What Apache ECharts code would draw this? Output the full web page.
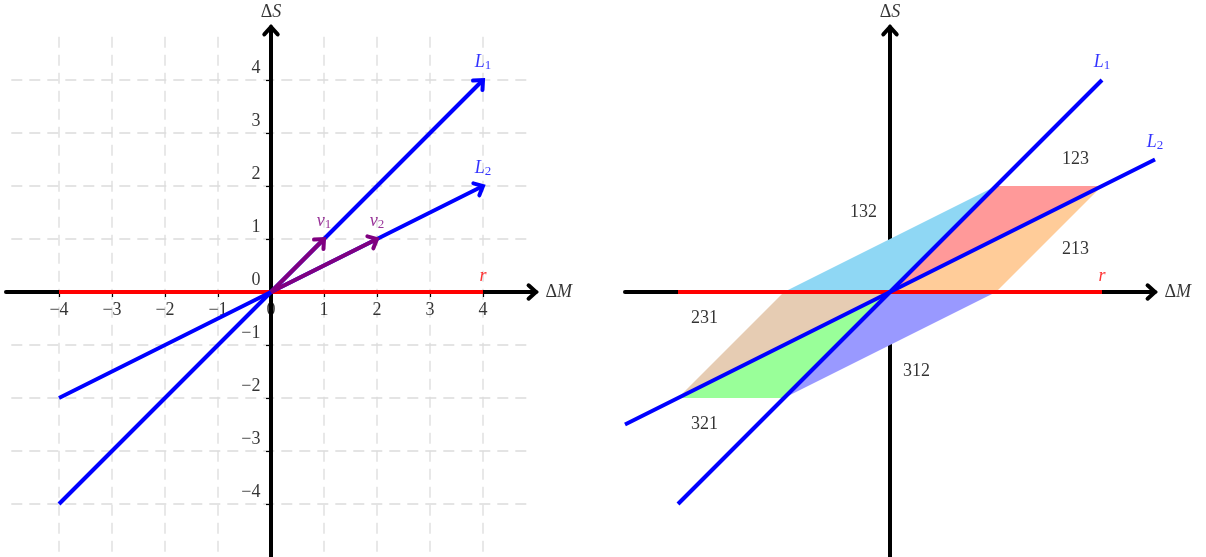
<!DOCTYPE html>
<html><head><meta charset="utf-8">
<script src="https://cdn.jsdelivr.net/npm/echarts@6/dist/echarts.min.js"></script>
<style>html,body{margin:0;padding:0;background:#fff}#c{width:1206px;height:557px}</style>
</head><body><div id="c"></div>
<script>
// ---------------- data ----------------
const tickValues = [-4, -3, -2, -1, 0, 1, 2, 3, 4];
const axisRange = [-5, 5];
const gridRange = [-4.9, 4.9];

const xAxisSeg = [[-5, 0], [5, 0]];
const yAxisSeg = [[0, -5], [0, 5]];

// left panel
const leftL1 = [[-4, -4], [4, 4]];
const leftL2 = [[-4, -2], [4, 2]];
const leftR  = [[-4, 0], [4, 0]];
const leftV1 = [[0, 0], [1, 1]];
const leftV2 = [[0, 0], [2, 1]];

// right panel
const rightL1 = [[-4, -4], [4, 4]];
const rightL2 = [[-5, -2.5], [5, 2.5]];
const rightR  = [[-4, 0], [4, 0]];

const region123 = [[0, 0], [2, 2], [4, 2]];
const region132 = [[0, 0], [-2, 0], [2, 2]];
const region213 = [[0, 0], [4, 2], [2, 0]];
const region231 = [[0, 0], [-2, 0], [-4, -2]];
const region321 = [[0, 0], [-4, -2], [-2, -2]];
const region312 = [[0, 0], [-2, -2], [2, 0]];

const regionNames = ['123', '132', '213', '231', '312', '321'];
const regionLabelPos = [[3.5, 2.5], [-0.5, 1.5], [3.5, 0.8], [-3.5, -0.5], [0.5, -1.5], [-3.5, -2.5]];

// ---------------- styling / helpers ----------------
const FONT = "'Liberation Serif','DejaVu Serif',serif";
const BLUE = '#0000ff', RED = '#ff0000', PURPLE = '#800080', BLACK = '#000000';
const fmt = function (val) {
  const v = Number(val);
  return v < 0 ? '\u2212' + Math.abs(v) : String(v);
};

function rich(color) {
  return {
    i: { fontFamily: FONT, fontSize: 18, fontStyle: 'italic', color: color, lineHeight: 20 },
    u: { fontFamily: FONT, fontSize: 18, color: color, lineHeight: 20 },
    s: { fontFamily: FONT, fontSize: 13, color: color, lineHeight: 13, verticalAlign: 'bottom' },
    n: { fontFamily: FONT, fontSize: 18, color: color, lineHeight: 20 },
    ny: { fontFamily: FONT, fontSize: 18, color: color, lineHeight: 20, padding: [0, 0, 24, 0] }
  };
}

function lineSeries(seg, color, g, z, width) {
  return {
    type: 'line', xAxisIndex: g, yAxisIndex: g, data: seg, symbol: 'none',
    silent: true, animation: false, z: z, clip: false,
    lineStyle: { color: color, width: width || 4, cap: 'butt' }
  };
}

function arrowSeries(segs, color, g, z) {
  return {
    type: 'custom', xAxisIndex: g, yAxisIndex: g, z: z, silent: true, animation: false, clip: false,
    data: segs.map(s => s[1]),
    renderItem: function (params, api) {
      const s = segs[params.dataIndex];
      const p0 = api.coord(s[0]), p1 = api.coord(s[1]);
      const a = Math.atan2(p1[1] - p0[1], p1[0] - p0[0]);
      const L = 10, h = 42 * Math.PI / 180;
      const b1 = [p1[0] - L * Math.cos(a - h), p1[1] - L * Math.sin(a - h)];
      const b2 = [p1[0] - L * Math.cos(a + h), p1[1] - L * Math.sin(a + h)];
      return {
        type: 'polyline', shape: { points: [b1, p1, b2] },
        style: { stroke: color, lineWidth: 4, fill: null, lineCap: 'round', lineJoin: 'miter' }
      };
    }
  };
}

function polygonSeries(region, color, g, z) {
  return {
    type: 'custom', xAxisIndex: g, yAxisIndex: g, z: z, silent: true, animation: false, clip: false,
    data: [region[0]],
    renderItem: function (params, api) {
      return {
        type: 'polygon', shape: { points: region.map(p => api.coord(p)) },
        style: { fill: color, stroke: null }
      };
    }
  };
}

function gridLineSeries(g) {
  return {
    type: 'custom', xAxisIndex: g, yAxisIndex: g, z: 0, silent: true, animation: false, clip: false,
    data: tickValues.map(t => [t, t]),
    renderItem: function (params, api) {
      const t = tickValues[params.dataIndex];
      const v0 = api.coord([t, gridRange[0]]), v1 = api.coord([t, gridRange[1]]);
      const h0 = api.coord([gridRange[0], t]), h1 = api.coord([gridRange[1], t]);
      const st = { stroke: '#dcdcdc', lineWidth: 1.3, lineDash: [11, 7] };
      return {
        type: 'group', children: [
          { type: 'line', shape: { x1: v0[0], y1: v0[1], x2: v1[0], y2: v1[1] }, style: st },
          { type: 'line', shape: { x1: h0[0], y1: h0[1], x2: h1[0], y2: h1[1] }, style: st }
        ]
      };
    }
  };
}

function textSeries(items, g, z) {
  return {
    type: 'scatter', xAxisIndex: g, yAxisIndex: g, z: z, silent: true, animation: false, clip: false,
    symbolSize: 1, itemStyle: { color: 'rgba(0,0,0,0)' }, labelLayout: { hideOverlap: false },
    data: items.map(it => ({
      value: it.pos,
      label: {
        show: true, formatter: it.text, position: it.position || 'inside',
        distance: it.distance == null ? 5 : it.distance,
        rich: rich(it.color)
      }
    }))
  };
}

function axisPair(g, showTicks) {
  const common = {
    gridIndex: g, type: 'value', min: axisRange[0], max: axisRange[1], interval: 1, z: 1,
    axisLine: { show: true, onZero: true, lineStyle: { color: BLACK, width: 4 } },
    axisTick: { show: showTicks, customValues: tickValues, length: 5, lineStyle: { color: BLACK, width: 1.2 } },
    axisLabel: { show: false },
    splitLine: { show: false }
  };
  return [Object.assign({}, common), Object.assign({}, common)];
}

const ax0 = axisPair(0, true);
const ax1 = axisPair(1, false);

// tick labels drawn from tickValues through the axes' scales
const tickLabels = tickValues.map(t => ({ pos: [t, 0], text: '{n|' + fmt(t) + '}', color: BLACK, position: 'bottom', distance: 8 }))
  .concat(tickValues.map(t => ({ pos: [0, t], text: '{ny|' + fmt(t) + '}', color: BLACK, position: 'left', distance: 10 })));

const labelsLeft = [
  { pos: leftL1[1], text: '{i|L}{s|1}', color: BLUE, position: 'top', distance: 7 },
  { pos: leftL2[1], text: '{i|L}{s|2}', color: BLUE, position: 'top', distance: 7 },
  { pos: leftV1[1], text: '{i|v}{s|1}', color: PURPLE, position: 'top', distance: 7 },
  { pos: leftV2[1], text: '{i|v}{s|2}', color: PURPLE, position: 'top', distance: 7 },
  { pos: leftR[1], text: '{i|r}', color: RED, position: 'top', distance: 5 },
  { pos: yAxisSeg[1], text: '{u|\u0394}{i|S}', color: BLACK, position: 'top', distance: 4 },
  { pos: xAxisSeg[1], text: '{u|\u0394}{i|M}', color: BLACK, position: 'right', distance: 9 }
];
const labelsRight = [
  { pos: rightL1[1], text: '{i|L}{s|1}', color: BLUE, position: 'top', distance: 7 },
  { pos: rightL2[1], text: '{i|L}{s|2}', color: BLUE, position: 'top', distance: 7 },
  { pos: rightR[1], text: '{i|r}', color: RED, position: 'top', distance: 5 },
  { pos: yAxisSeg[1], text: '{u|\u0394}{i|S}', color: BLACK, position: 'top', distance: 4 },
  { pos: xAxisSeg[1], text: '{u|\u0394}{i|M}', color: BLACK, position: 'right', distance: 9 }
].concat(regionNames.map((n, i) => ({ pos: regionLabelPos[i], text: '{n|' + n + '}', color: BLACK, position: 'inside' })));

const option = {
  backgroundColor: '#ffffff',
  animation: false,
  grid: [
    { left: 6, top: 27, width: 530, height: 530, containLabel: false, outerBoundsMode: 'none' },
    { left: 625, top: 27, width: 530, height: 530, containLabel: false, outerBoundsMode: 'none' }
  ],
  xAxis: [ax0[0], ax1[0]],
  yAxis: [ax0[1], ax1[1]],
  series: [
    // left panel
    gridLineSeries(0),
    textSeries(tickLabels, 0, 0),
    lineSeries(leftR, RED, 0, 2),
    lineSeries(leftL1, BLUE, 0, 3),
    lineSeries(leftL2, BLUE, 0, 3),
    arrowSeries([xAxisSeg, yAxisSeg], BLACK, 0, 2),
    arrowSeries([leftL1, leftL2], BLUE, 0, 3),
    lineSeries(leftV1, PURPLE, 0, 4),
    lineSeries(leftV2, PURPLE, 0, 4),
    arrowSeries([leftV1, leftV2], PURPLE, 0, 4),
    textSeries(labelsLeft, 0, 6),
    // right panel
    polygonSeries(region123, '#ff9999', 1, 2),
    polygonSeries(region132, '#8fd7f4', 1, 2),
    polygonSeries(region213, '#ffcc99', 1, 2),
    polygonSeries(region231, '#e6ccb3', 1, 2),
    polygonSeries(region321, '#99ff99', 1, 2),
    polygonSeries(region312, '#9999ff', 1, 2),
    arrowSeries([xAxisSeg, yAxisSeg], BLACK, 1, 2),
    lineSeries(rightR, RED, 1, 3),
    lineSeries(rightL1, BLUE, 1, 4),
    lineSeries(rightL2, BLUE, 1, 4),
    textSeries(labelsRight, 1, 6)
  ]
};

const chart = echarts.init(document.getElementById('c'), null, { renderer: 'canvas' });
chart.setOption(option);
</script>
</body></html>
